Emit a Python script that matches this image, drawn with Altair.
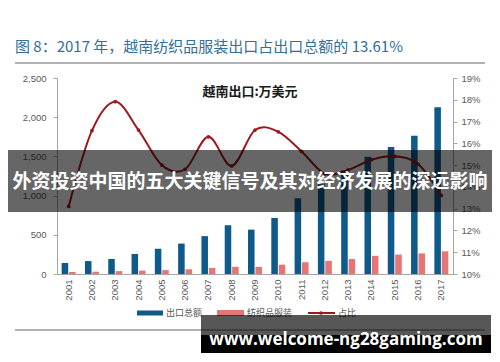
import altair as alt
import pandas as pd

# ---------------- data ----------------
years = [str(y) for y in range(2001, 2018)]
total_exports = [140, 165, 192, 256, 322, 388, 483, 622, 566, 715, 966, 1145, 1320, 1495, 1620, 1762, 2127]
textile_exports = [26, 29, 37, 44, 50, 60, 78, 92, 91, 119, 150, 168, 192, 232, 248, 262, 290]
share_pct = [13.1, 16.58, 17.91, 16.61, 15.0, 14.81, 16.3, 14.96, 16.61, 16.53, 15.63, 14.6, 14.78, 15.25, 15.4, 15.05, 13.61]

series_names = ["出口总额", "纺织品服装"]
line_name = "占比"
left_ticks = [0, 500, 1000, 1500, 2000, 2500]
right_ticks = [0.10, 0.11, 0.12, 0.13, 0.14, 0.15, 0.16, 0.17, 0.18, 0.19]

title_text = "图 8：2017 年，越南纺织品服装出口占出口总额的 13.61%"
note_text = "越南出口:万美元"
banner_text = "外资投资中国的五大关键信号及其对经济发展的深远影响"
watermark_text = "www.welcome-ng28gaming.com"

bar_colors = ["#0E5A8A", "#E67576"]
line_color = "#9C1A1F"
axis_gray = "#A6A6A6"
label_gray = "#595959"
num_font = "Liberation Sans"
cjk_font = "Noto Sans CJK SC"

bars_df = pd.DataFrame({
    "year": years * 2,
    "series": [series_names[0]] * len(years) + [series_names[1]] * len(years),
    "value": total_exports + textile_exports,
})
line_df = pd.DataFrame({"year": years, "share": [s / 100 for s in share_pct]})
one = pd.DataFrame({"k": [0]})

x_enc = alt.X(
    "year:O", sort=years,
    scale=alt.Scale(paddingInner=0.4, paddingOuter=0.2),
    axis=alt.Axis(title=None, labelAngle=270, labelFontSize=9.5, labelColor=label_gray,
                  labelFont=num_font, labelPadding=5, domainColor=axis_gray, ticks=False),
)

bars = alt.Chart(bars_df).mark_bar().encode(
    x=x_enc,
    xOffset=alt.XOffset("series:N", sort=series_names, scale=alt.Scale(paddingInner=0.12)),
    y=alt.Y("value:Q", scale=alt.Scale(domain=[0, 2500], nice=False),
            axis=alt.Axis(title=None, values=left_ticks, format=",d", grid=False,
                          labelFontSize=9.5, labelColor=label_gray, labelFont=num_font,
                          tickSize=4, tickColor=axis_gray, domainColor=axis_gray, labelPadding=7)),
    color=alt.Color("series:N", scale=alt.Scale(domain=series_names, range=bar_colors), legend=None),
)

y_right = alt.Y("share:Q", scale=alt.Scale(domain=[0.10, 0.19], nice=False, zero=False),
                axis=alt.Axis(title=None, orient="right", values=right_ticks, format=".0%", grid=False,
                              labelFontSize=9.5, labelColor=label_gray, labelFont=num_font,
                              tickSize=4, tickColor=axis_gray, domainColor=axis_gray, labelPadding=4))

line = alt.Chart(line_df).mark_line(interpolate="cardinal", color=line_color, strokeWidth=2).encode(
    x=alt.X("year:O", sort=years), y=y_right)
points = alt.Chart(line_df).mark_point(filled=True, size=14, color=line_color, opacity=1).encode(
    x=alt.X("year:O", sort=years), y=y_right)
right = alt.layer(line, points)


def txt(s, x, y, **kw):
    return alt.Chart(one).mark_text(text=s, **kw).encode(x=alt.value(x), y=alt.value(y))


def rule(x1, x2, y, color, width):
    return alt.Chart(one).mark_rule(color=color, strokeWidth=width).encode(
        x=alt.value(x1), x2=alt.value(x2), y=alt.value(y))


def rect(x1, x2, y1, y2, color, opacity):
    return alt.Chart(one).mark_rect(color=color, opacity=opacity).encode(
        x=alt.value(x1), x2=alt.value(x2), y=alt.value(y1), y2=alt.value(y2))


title = txt(title_text, -42, -31, align="left", baseline="middle", fontSize=15,
            font=cjk_font, color="#336F98")
title_line = rule(-42, 428, -15, "#999999", 1.5)
bottom_line = rule(-42, 428, 252, "#999999", 1.5)
note = txt(note_text, 193, 14, align="center", baseline="middle", fontSize=13,
           font=cjk_font, fontWeight="bold", color="#1a1a1a")

leg = [
    rule(80, 106, 235, bar_colors[0], 5),
    txt(series_names[0], 109, 235, align="left", baseline="middle", fontSize=9, font=cjk_font, color=label_gray),
    rule(160, 187, 235, bar_colors[1], 6),
    txt(series_names[1], 190, 235, align="left", baseline="middle", fontSize=9, font=cjk_font, color=label_gray),
    rule(251, 278, 235, line_color, 2),
    alt.Chart(one).mark_point(filled=True, size=14, color=line_color, opacity=1).encode(
        x=alt.value(264), y=alt.value(235)),
    txt(line_name, 281, 235, align="left", baseline="middle", fontSize=9, font=cjk_font, color=label_gray),
]

banner_bg = rect(-57, 443, 72, 134, "#000000", 0.6)
banner = txt(banner_text, 193, 104, align="center", baseline="middle", fontSize=19,
             font=cjk_font, fontWeight="bold", color="#ffffff")

wm_bg = rect(144, 434, 237, 275, "#000000", 0.66)
wm_bg2 = rect(144, 434, 257, 275, "#000000", 1.0)
wm = txt(watermark_text, 289, 262, align="center", baseline="middle", fontSize=17,
         font="Open Sans", fontWeight="bold", color="#ffffff")

chart = alt.layer(
    bars, right, note, title, title_line, bottom_line, *leg,
    banner_bg, banner, wm_bg, wm_bg2, wm,
).resolve_scale(y="independent").properties(
    width=396, height=196,
    padding={"left": 49, "top": 70, "right": 39, "bottom": 80},
    autosize=alt.AutoSizeParams(type="none"),
    background="#ffffff",
).configure_view(stroke=None)

chart.save("out.html", embed_options={"renderer": "svg", "actions": False})
